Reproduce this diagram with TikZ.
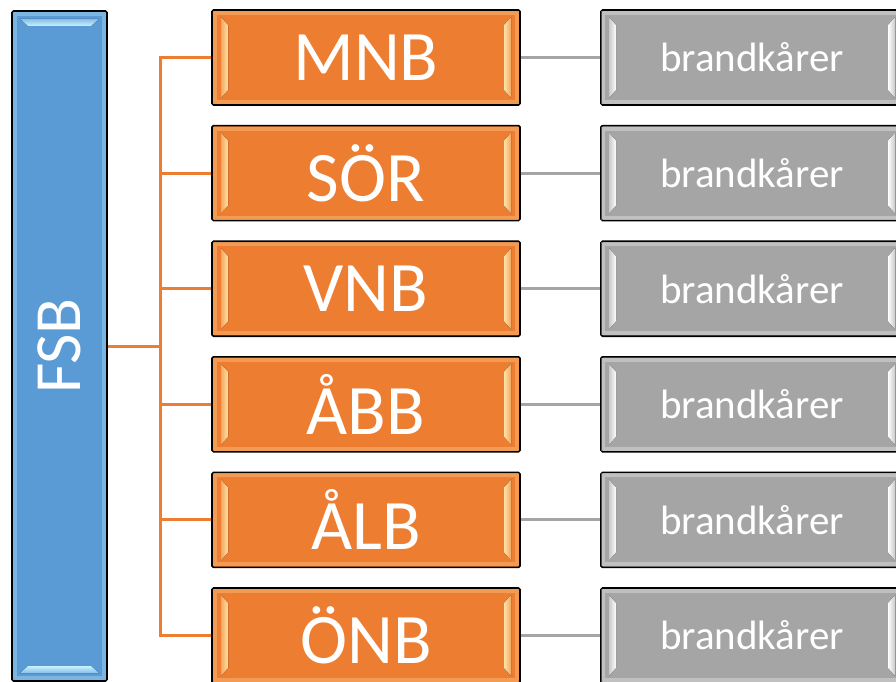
\documentclass[tikz,border=0pt]{standalone}
\usepackage{fontspec}
\setmainfont{Carlito}
\definecolor{orC}{HTML}{ED7D31}
\definecolor{blC}{HTML}{5B9BD5}
\definecolor{grC}{HTML}{A5A5A5}
\definecolor{orH}{HTML}{FFE3A6}
\definecolor{blH}{HTML}{C8F2FF}
\definecolor{grH}{HTML}{FFFFFF}
% vertical side strips: x0 y0 x1 y1 (image coords, y down) main hi
\newcommand\sidebev[6]{%
  \draw[#6, opacity=.3, line width=4pt] ({#1+3},{-(#2+3)}) rectangle ({#3-3},{-(#4-3)});
  \fill[left color=#5!60!#6, right color=#6] ({#1+9},{-(#2+7)}) -- ({#1+16},{-(#2+15)}) -- ({#1+16},{-(#4-15)}) -- ({#1+9},{-(#4-7)}) -- cycle;
  \fill[left color=#6, right color=#5!60!#6] ({#3-9},{-(#2+7)}) -- ({#3-16},{-(#2+15)}) -- ({#3-16},{-(#4-15)}) -- ({#3-9},{-(#4-7)}) -- cycle;
}
% horizontal top/bottom strips
\newcommand\topbev[6]{%
  \draw[#6, opacity=.3, line width=4pt] ({#1+3},{-(#2+3)}) rectangle ({#3-3},{-(#4-3)});
  \fill[top color=#5!60!#6, bottom color=#6] ({#1+8},{-(#2+8)}) -- ({#3-8},{-(#2+8)}) -- ({#3-16},{-(#2+15)}) -- ({#1+16},{-(#2+15)}) -- cycle;
  \fill[top color=#6, bottom color=#5!60!#6] ({#1+8},{-(#4-8)}) -- ({#3-8},{-(#4-8)}) -- ({#3-16},{-(#4-15)}) -- ({#1+16},{-(#4-15)}) -- cycle;
}
\tikzset{
  boxbase/.style={draw=black, line width=1.6pt, rounded corners=1.5pt, inner sep=0pt, text=white},
  fsbbox/.style={boxbase, fill=blC, rotate=90, minimum width=670pt, minimum height=95pt, font=\fontsize{66}{66}\selectfont},
  orbox/.style={boxbase, fill=orC, minimum width=308pt, minimum height=95pt, font=\fontsize{71}{71}\selectfont},
  grbox/.style={boxbase, fill=grC, minimum width=302pt, minimum height=95pt, font=\fontsize{41}{41}\selectfont},
  orline/.style={draw=orC, line width=3pt},
  grline/.style={draw=grC, line width=3pt},
}
\begin{document}
\begin{tikzpicture}[x=1pt,y=1pt]
\useasboundingbox (0,0) rectangle (896,-682);
\clip (0,0) rectangle (896,-682);
\fill[white] (0,0) rectangle (896,-682);
\node[fsbbox] (fsb) at (59.5,-346) {FSB};
\topbev{12}{11}{107}{681}{blC}{blH}
\coordinate (bus) at (160,-346);
\draw[orline] (fsb.south) -- (bus);
\foreach \i/\t in {0/MNB,1/SÖR,2/VNB,3/ÅBB,4/ÅLB,5/ÖNB}{
  \pgfmathsetmacro\yc{57.5+115.6*\i}
  \node[orbox] (o\i) at (366,-\yc) {\t};
  \sidebev{212}{\yc-47.5}{520}{\yc+47.5}{orC}{orH}
  \node[grbox] (g\i) at (752,-\yc) {brandkårer};
  \sidebev{600}{\yc-47.5}{904}{\yc+47.5}{grC}{grH}
  \draw[orline] (bus) |- (o\i.west);
  \draw[grline] (o\i.east) -- (g\i.west);
}
\end{tikzpicture}
\end{document}
